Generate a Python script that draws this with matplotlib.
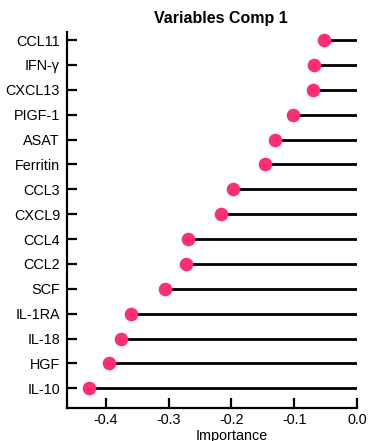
import matplotlib
matplotlib.use("Agg")
import matplotlib.pyplot as plt

# Variable importances for component 1 (top to bottom)
variables = ["CCL11", "IFN-γ", "CXCL13", "PIGF-1", "ASAT", "Ferritin", "CCL3",
             "CXCL9", "CCL4", "CCL2", "SCF", "IL-1RA", "IL-18", "HGF", "IL-10"]
importance = [-0.052, -0.068, -0.070, -0.102, -0.130, -0.146, -0.198,
              -0.216, -0.269, -0.272, -0.306, -0.360, -0.376, -0.395, -0.427]
xticks = [-0.4, -0.3, -0.2, -0.1, 0.0]

plt.rcParams["font.family"] = ["Liberation Sans", "DejaVu Sans"]

fig = plt.figure(figsize=(3.69, 4.41), dpi=100)
ax = fig.add_axes([67 / 369, 1 - 407.7 / 441, 290 / 369, (407.7 - 31.7) / 441])

n = len(variables)
ypos = [n - 1 - i for i in range(n)]

ax.hlines(ypos, importance, 0, color="black", linewidth=2.0, zorder=1)
ax.plot(importance, ypos, "o", color="#FF2D78", markersize=9.8,
        markeredgewidth=0, zorder=2)

ax.set_xlim(-0.462, 0.0)
ax.set_ylim(-0.78, n - 1 + 0.335)
ax.set_yticks(ypos)
ax.set_yticklabels(variables, fontsize=10.4)
ax.set_xticks(xticks)
ax.set_xticklabels([f"{v:.1f}" for v in xticks], fontsize=10.4)

for s in ("top", "right"):
    ax.spines[s].set_visible(False)
for s in ("left", "bottom"):
    ax.spines[s].set_linewidth(1.6)
ax.tick_params(axis="both", direction="in", length=7, width=1.6, pad=4)
ax.tick_params(axis="y", pad=5)

ax.set_xlabel("Importance", fontsize=10.4)
ax.xaxis.set_label_coords(0.567, -0.056)
ax.set_title("Variables Comp 1", fontsize=11.5, fontweight="bold", x=0.529, pad=6)

fig.savefig("out.png", dpi=100)
